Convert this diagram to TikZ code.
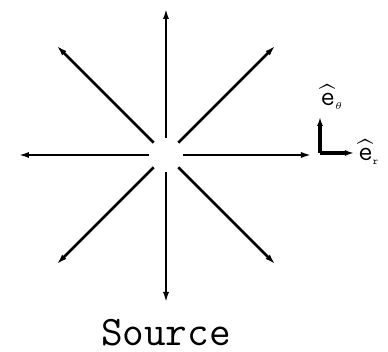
\documentclass[tikz,border=0pt]{standalone}
\usepackage{amsmath}
\usetikzlibrary{arrows.meta}
\newcommand{\uvec}[2]{$\widehat{\mbox{\ttfamily #1}}_{\mbox{\ttfamily\tiny #2}}$}

\begin{document}
\begin{tikzpicture}[x=0.5pt, y=0.5pt,
    hub/.style = {circle, minimum size=17pt, inner sep=0pt},
    ray/.style = {line width=1.4pt, -{Latex[length=5.5pt, width=3pt]}},
    axis/.style = {line width=1.7pt, -{Latex[length=4.5pt, width=3pt]}},
    lbl/.style = {inner sep=0pt, font=\fontsize{14}{16}\selectfont}]
    \useasboundingbox (-166,-197) rectangle (222,155);

    \node[hub] (src) at (0,0) {};
    \foreach \a/\r in {0/146, 45/155, 90/147, 135/155, 180/148, 225/155, 270/148, 315/155} {
        \coordinate (tip\a) at (\a:\r);
        \path[ray] (src.\a) edge (tip\a);
    }

    \node[inner sep=0pt, font=\ttfamily\fontsize{21}{23}\selectfont] (name) at (0,-178) {Source};

    \coordinate (corner) at (154,2);
    \coordinate (ttip) at (154,38);
    \coordinate (rtip) at (188,2);
    \path[axis] (corner) edge (ttip);
    \path[axis] (corner) edge (rtip);

    \node[lbl] (etheta) at (166,58) {\uvec{e}{$\theta$}};
    \node[lbl, anchor=west] (er) at (192,3) {\uvec{e}{r}};
\end{tikzpicture}
\end{document}
